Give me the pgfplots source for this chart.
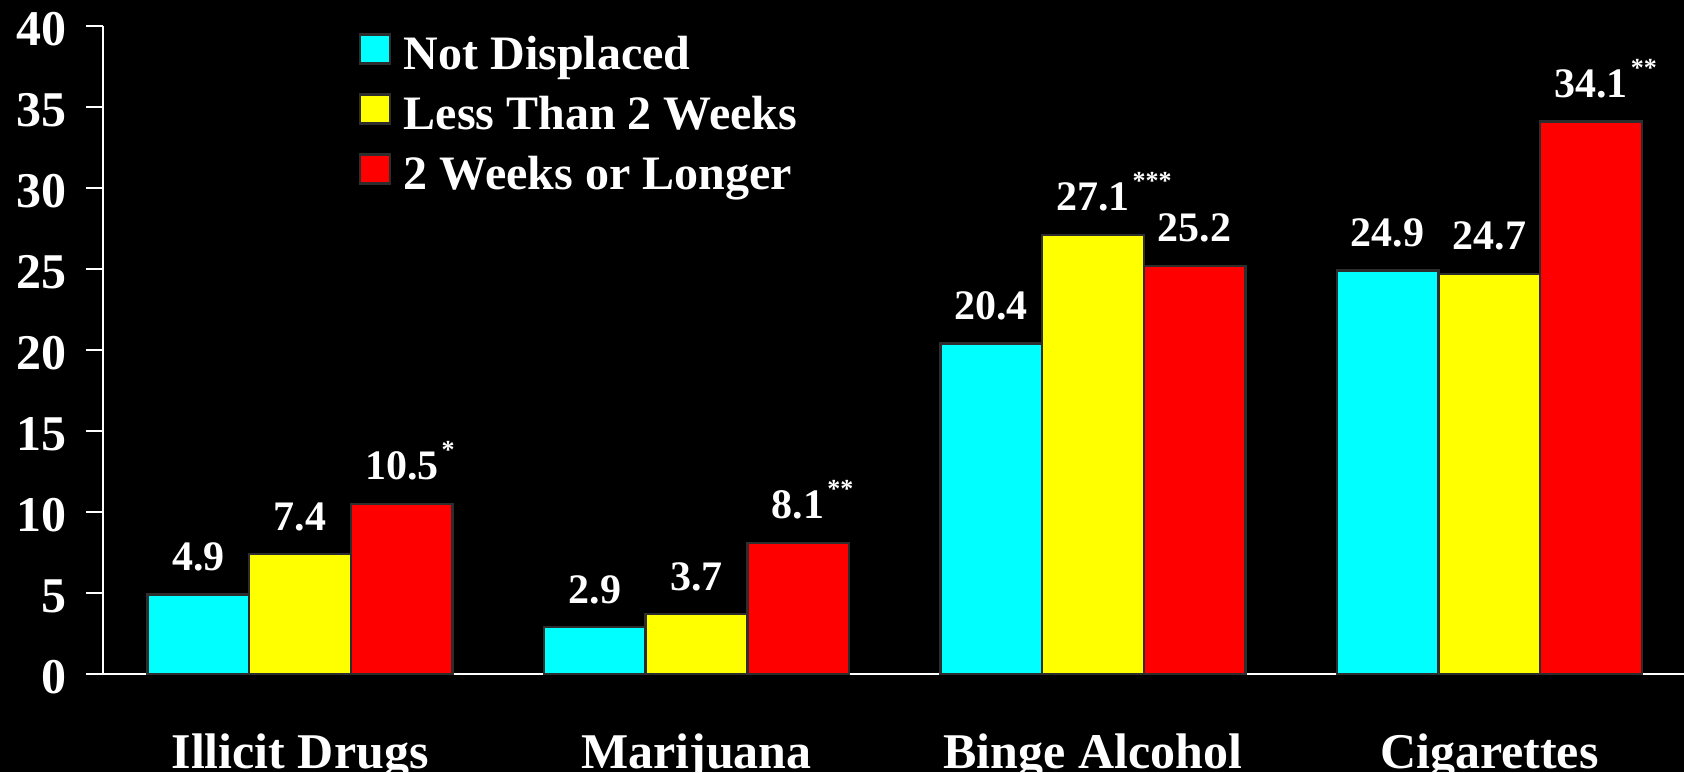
\documentclass[border=0pt]{standalone}
\usepackage{fontspec}
\setmainfont{Liberation Serif}
\usepackage{pgfplots}
\pgfplotsset{compat=1.18}
\definecolor{ndcyan}{RGB}{0,255,255}
\definecolor{ltyellow}{RGB}{255,255,0}
\definecolor{lgred}{RGB}{255,0,0}
\definecolor{edgegray}{RGB}{45,45,45}
% significance stars, kept out of the label's width
\protected\def\stars#1{\rlap{\hspace{1.5pt}\raisebox{10.5pt}{\fontsize{13}{13}\selectfont #1}}}

\begin{document}
\begin{tikzpicture}
\fill[black] (-51.5pt,-49pt) rectangle (790.5pt,337pt);
\begin{axis}[
  at={(0,0)}, anchor=south west,
  scale only axis, width=790.5pt, height=324pt,
  xmin=-0.497, xmax=3.491, ymin=0, ymax=40,
  ybar=0pt, bar width=0.2566,
  axis x line*=bottom, axis y line*=left,
  axis line style={white, line width=1pt, -},
  ytick={0,5,...,40},
  tick align=outside,
  major tick length=8.5pt,
  ytick style={white, line width=1pt},
  xtick={0,1,2,3}, xtick style={draw=none},
  xticklabels={Illicit Drugs, Marijuana, Binge Alcohol, Cigarettes},
  /pgf/number format/assume math mode=true,
  yticklabel style={font=\fontsize{25}{25}\selectfont\bfseries, text=white, inner sep=0pt, xshift=-9.5pt, yshift=-1.8pt},
  xticklabel style={font=\fontsize{25}{25}\selectfont\bfseries, text=white, anchor=base, inner sep=0pt, yshift=-38.5pt},
  point meta=explicit symbolic,
  nodes near coords,
  every node near coord/.append style={font=\fontsize{21}{21}\selectfont\bfseries, text=white, anchor=base, yshift=12pt, inner sep=0pt},
  legend style={draw=none, fill=none, at={(0.1578,0.9955)}, anchor=north west,
    font=\fontsize{24}{24}\selectfont\bfseries, text=white,
    row sep=6.5pt, column sep=6.3pt,
    nodes={inner sep=0pt, text height=16.3pt, text depth=5.3pt}},
  legend cell align=left,
  legend image code/.code={\draw[#1, draw=edgegray, line width=1.2pt] (0pt,-2.4pt) rectangle (15pt,12.1pt);},
]
\addplot[fill=ndcyan, draw=edgegray, line width=1.2pt]
  coordinates {(0,4.9)[4.9] (1,2.9)[2.9] (2,20.4)[20.4] (3,24.9)[24.9]};
\addlegendentry{Not Displaced}
\addplot[fill=ltyellow, draw=edgegray, line width=1.2pt]
  coordinates {(0,7.4)[7.4] (1,3.7)[3.7] (2,27.1)[27.1\stars{***}] (3,24.7)[24.7]};
\addlegendentry{Less Than 2 Weeks}
\addplot[fill=lgred, draw=edgegray, line width=1.2pt]
  coordinates {(0,10.5)[10.5\stars{*}] (1,8.1)[8.1\stars{**}] (2,25.2)[25.2] (3,34.1)[34.1\stars{**}]};
\addlegendentry{2 Weeks or Longer}
\end{axis}
\pgfresetboundingbox
\useasboundingbox (-51.5pt,-49pt) rectangle (790.5pt,337pt);
\end{tikzpicture}
\end{document}
